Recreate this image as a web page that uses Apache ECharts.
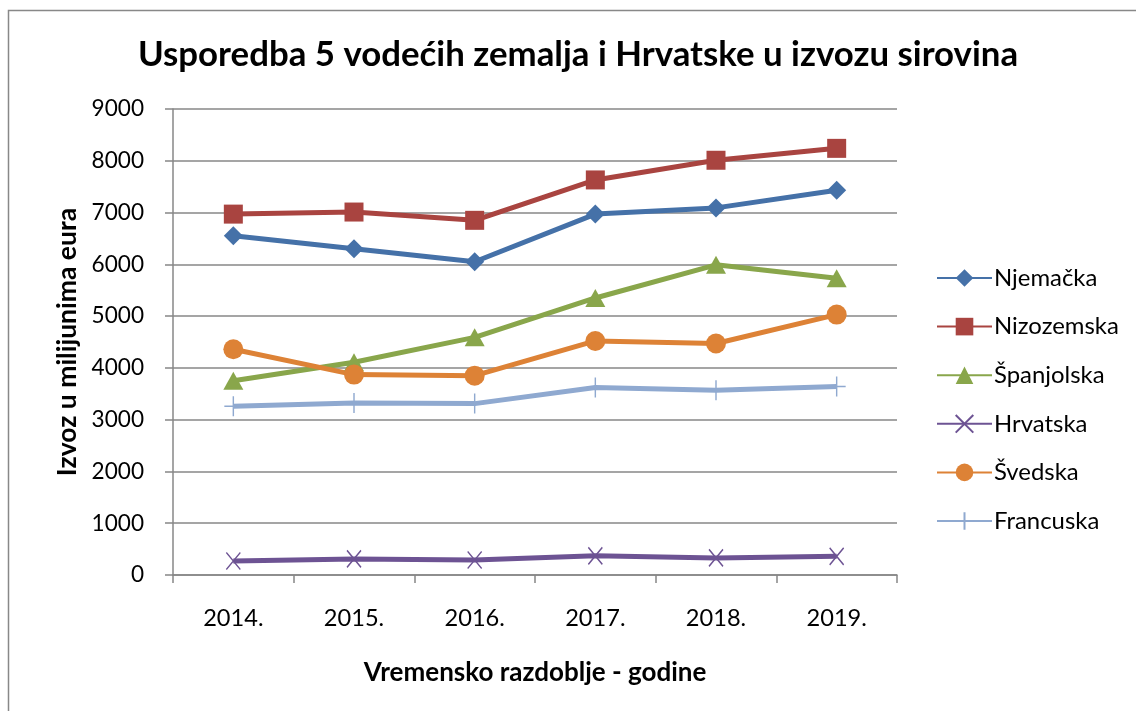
<!DOCTYPE html>
<html>
<head>
<meta charset="utf-8">
<script src="https://cdn.jsdelivr.net/npm/echarts@6/dist/echarts.min.js"></script>
<style>
    html, body { margin: 0; padding: 0; background: #fff; }
    #chart { width: 1136px; height: 711px; }
</style>
</head>
<body>
<div id="chart"></div>
<script>
    // godine i vrijednosti (milijuni eura), ocitano sa slike
    let godine = ['2014.', '2015.', '2016.', '2017.', '2018.', '2019.']
    let njemacka = [6550, 6300, 6050, 6970, 7090, 7430]
    let nizozemska = [6970, 7010, 6850, 7630, 8010, 8240]
    let spanjolska = [3750, 4110, 4590, 5350, 5990, 5730]
    let hrvatska = [270, 310, 290, 370, 330, 360]
    let svedska = [4360, 3870, 3850, 4520, 4470, 5030]
    let francuska = [3260, 3320, 3310, 3620, 3570, 3640]

    let font = 'Lato'
    let gridColor = '#878787'

    function serija(name, data, color, symbol, size, extra) {
        let s = {
            name: name,
            type: 'line',
            data: data,
            symbol: symbol,
            symbolSize: size,
            lineStyle: { color: color, width: 5 },
            itemStyle: { color: color },
            emphasis: { disabled: true }
        }
        return Object.assign(s, extra || {})
    }

    let chart = echarts.init(document.getElementById('chart'))
    chart.setOption({
        backgroundColor: '#fff',
        animation: false,
        textStyle: { fontFamily: font },
        title: {
            text: 'Usporedba 5 vodećih zemalja i Hrvatske u izvozu sirovina',
            left: 573,
            textAlign: 'center',
            top: 32,
            textStyle: { fontSize: 34.8, fontWeight: 'bold', color: '#000', fontFamily: font }
        },
        graphic: [{
            type: 'rect',
            shape: { x: 8.5, y: 10.5, width: 1140, height: 720 },
            style: { fill: 'none', stroke: '#888', lineWidth: 1.5 },
            silent: true
        }],
        legend: {
            orient: 'vertical',
            left: 931,
            top: 261,
            itemWidth: 55,
            itemHeight: 22,
            itemGap: 24.6,
            textStyle: { fontSize: 23.9, color: '#000', fontFamily: font, padding: [0, 0, 0, -3] },
            data: ['Njemačka', 'Nizozemska', 'Španjolska', 'Hrvatska', 'Švedska', 'Francuska']
        },
        grid: { left: 173, right: 239, top: 109, bottom: 136 },
        xAxis: {
            type: 'category',
            data: godine,
            boundaryGap: true,
            name: 'Vremensko razdoblje - godine',
            nameLocation: 'middle',
            nameGap: 85,
            nameTextStyle: { fontSize: 26, fontWeight: 'bold', color: '#000' },
            axisLine: { lineStyle: { color: gridColor, width: 1.5 } },
            axisTick: { show: true, length: 8, lineStyle: { color: gridColor, width: 1.5 } },
            axisLabel: { fontSize: 23.6, color: '#000', margin: 31 }
        },
        yAxis: {
            type: 'value',
            min: 0,
            max: 9000,
            interval: 1000,
            name: 'Izvoz u milijunima eura',
            nameLocation: 'middle',
            nameGap: 89,
            nameTextStyle: { fontSize: 26.5, fontWeight: 'bold', color: '#000' },
            axisLine: { show: true, lineStyle: { color: gridColor, width: 1.5 } },
            axisTick: { show: true, length: 8, lineStyle: { color: gridColor, width: 1.5 } },
            axisLabel: { fontSize: 22.6, color: '#000', margin: 29, formatter: function (v) { return String(v) } },
            splitLine: { lineStyle: { color: gridColor, width: 1.5 } }
        },
        series: [
            serija('Njemačka', njemacka, '#4571A8', 'diamond', 19),
            serija('Nizozemska', nizozemska, '#A94440', 'rect', 19),
            serija('Španjolska', spanjolska, '#89A64B', 'triangle', [20, 18]),
            serija('Hrvatska', hrvatska, '#6D5393', 'path://M0,0L10,12M10,0L0,12', [14, 17], {
                itemStyle: { color: 'none', borderColor: '#6D5393', borderWidth: 1.5 }
            }),
            serija('Švedska', svedska, '#DD8236', 'circle', 20),
            serija('Francuska', francuska, '#8FA9D0', 'path://M5,0L5,12M0,6L10,6', [18, 20], {
                itemStyle: { color: 'none', borderColor: '#8FA9D0', borderWidth: 1.5 }
            })
        ]
    })
</script>
</body>
</html>
